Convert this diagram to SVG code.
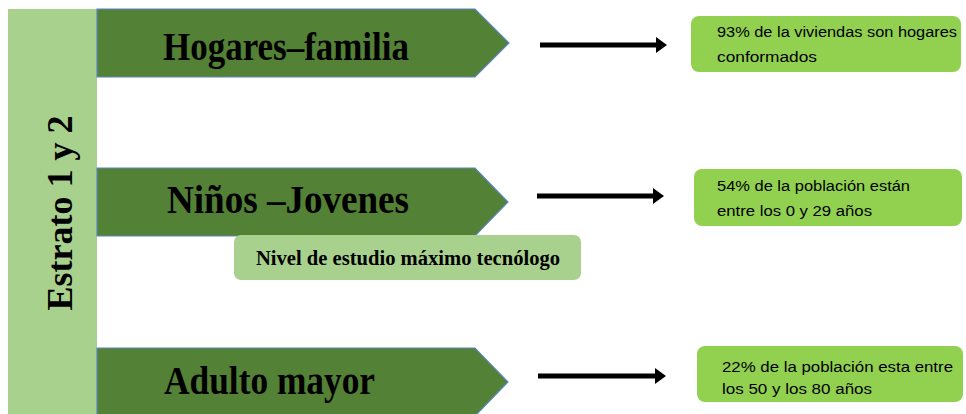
<svg xmlns="http://www.w3.org/2000/svg" width="966" height="414" viewBox="0 0 966 414">
  <style>
    .chev { fill: #538135; stroke: #5b87c0; stroke-width: 1.2; }
    .bar { fill: #a9d18e; }
    .box { fill: #92d050; }
    .sub { fill: #a9d18e; }
    .big { font-family: "Liberation Serif", "Times New Roman", serif; font-weight: bold; font-size: 40px; fill: #000; }
    .vert { font-family: "Liberation Serif", "Times New Roman", serif; font-weight: bold; font-size: 36px; fill: #000; }
    .small { font-family: "Liberation Sans", Arial, sans-serif; font-size: 14px; fill: #000; }
    .mid { font-family: "Liberation Serif", "Times New Roman", serif; font-weight: bold; font-size: 20px; fill: #000; }
    .conn { stroke: #000; stroke-width: 5; fill: none; }
  </style>
  <defs>
    <marker id="ah" markerWidth="4" markerHeight="4" refX="1.2" refY="2" orient="auto" markerUnits="strokeWidth">
      <path d="M0,0.4 L2.2,2 L0,3.6 Z" fill="#000"/>
    </marker>
  </defs>
  <rect width="966" height="414" fill="#fff"/>

  <g id="estrato">
    <rect class="bar" x="8" y="9" width="89" height="405"/>
    <text class="vert" transform="translate(72,213) rotate(-90)" text-anchor="middle">Estrato 1 y 2</text>
  </g>

  <g id="hogares">
    <polygon class="chev" points="97,9 475,9 509,43 475,77 97,77"/>
    <text class="big" x="163" y="60" textLength="246" lengthAdjust="spacingAndGlyphs">Hogares–familia</text>
  </g>

  <g id="ninos">
    <polygon class="chev" points="97,168 475,168 508,202 475,236 97,236"/>
    <text class="big" x="167" y="213" textLength="242" lengthAdjust="spacingAndGlyphs">Niños –Jovenes</text>
  </g>

  <g id="nivel">
    <rect class="sub" x="234" y="235" width="347" height="45" rx="7"/>
    <text class="mid" x="256" y="265" textLength="304" lengthAdjust="spacingAndGlyphs">Nivel de estudio máximo tecnólogo</text>
  </g>

  <g id="adulto">
    <polygon class="chev" points="97,348 475,348 508,382 475,416 97,416"/>
    <text class="big" x="164" y="394" textLength="211" lengthAdjust="spacingAndGlyphs">Adulto mayor</text>
  </g>

  <g id="dato1">
    <rect class="box" x="691" y="16" width="270" height="56" rx="8"/>
    <text class="small" x="717" y="37" textLength="240" lengthAdjust="spacingAndGlyphs">93% de la viviendas son hogares</text>
    <text class="small" x="717" y="62" textLength="100" lengthAdjust="spacingAndGlyphs">conformados</text>
  </g>

  <g id="dato2">
    <rect class="box" x="694" y="169" width="268" height="57" rx="8"/>
    <text class="small" x="717" y="191" textLength="193" lengthAdjust="spacingAndGlyphs">54% de la población están</text>
    <text class="small" x="717" y="216" textLength="155" lengthAdjust="spacingAndGlyphs">entre los 0 y 29 años</text>
  </g>

  <g id="dato3">
    <rect class="box" x="697" y="346" width="266" height="56" rx="8"/>
    <text class="small" x="722" y="372" textLength="231" lengthAdjust="spacingAndGlyphs">22% de la  población esta entre</text>
    <text class="small" x="722" y="394" textLength="150" lengthAdjust="spacingAndGlyphs">los 50 y los 80 años</text>
  </g>

  <g id="connectors">
    <line class="conn" x1="540" y1="45" x2="662" y2="45" marker-end="url(#ah)"/>
    <line class="conn" x1="537" y1="196" x2="659" y2="196" marker-end="url(#ah)"/>
    <line class="conn" x1="538" y1="376" x2="661" y2="376" marker-end="url(#ah)"/>
  </g>
</svg>
